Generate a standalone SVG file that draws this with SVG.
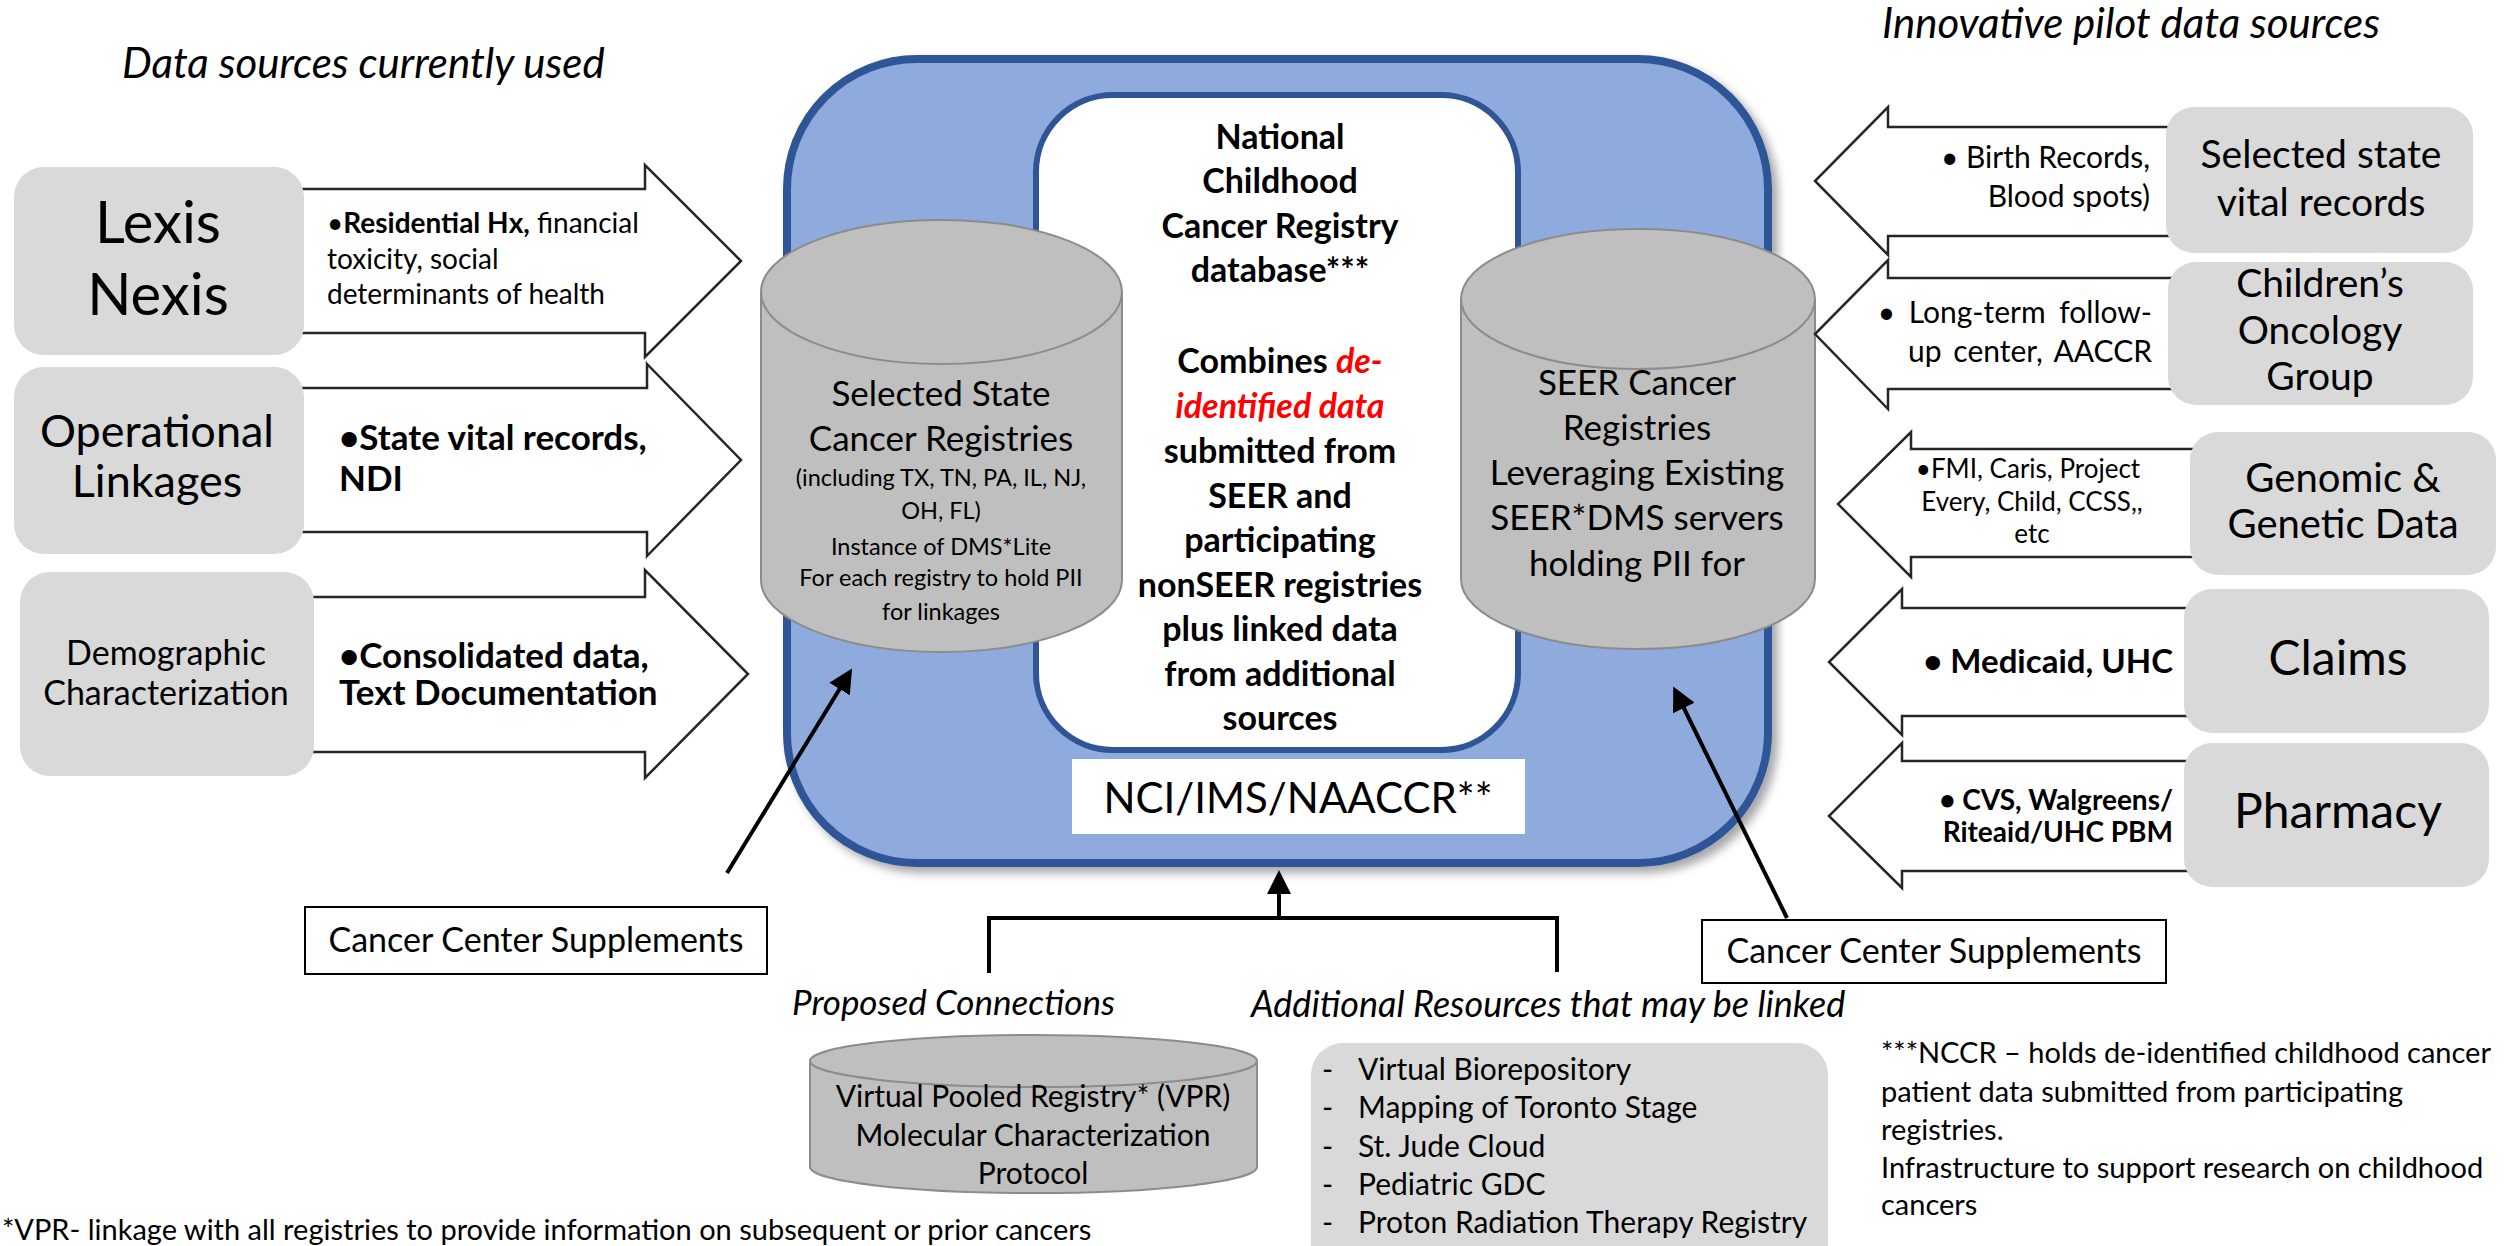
<svg xmlns="http://www.w3.org/2000/svg" width="2509" height="1246" viewBox="0 0 2509 1246">
<defs>
<style>
text{font-family:Lato,"Liberation Sans",sans-serif;fill:#000}
.it{font-style:italic}
.b{font-weight:bold}
.mid{text-anchor:middle}
.end{text-anchor:end}
.gbox{fill:#d9d9d9}
.arr{fill:#fff;stroke:#262626;stroke-width:2.5;stroke-linejoin:miter}
.cyl{fill:#bfbfbf;stroke:#8c8c8c;stroke-width:2}
.conn{stroke:#000;stroke-width:4;fill:none}
.frame{fill:#fff;stroke:#000;stroke-width:2}
</style>
<filter id="sh" x="-5%" y="-5%" width="112%" height="112%">
<feDropShadow dx="6" dy="6" stdDeviation="5" flood-color="#000" flood-opacity="0.35"/>
</filter>
<marker id="ah" markerWidth="6" markerHeight="6" refX="5" refY="3" orient="auto" markerUnits="strokeWidth">
<path d="M0,0 L6,3 L0,6 Z" fill="#000"/>
</marker>
</defs>
<rect width="2509" height="1246" fill="#fff"/>

<g id="titles">
<text class="it" x="122" y="78" font-size="42">Data sources currently used</text>
<text class="it" x="1882" y="38" font-size="42">Innovative pilot data sources</text>
</g>

<g id="hub">
<rect x="787" y="59" width="981" height="804" rx="130" fill="#8faadc" stroke="#2f5597" stroke-width="8" filter="url(#sh)"/>
<rect x="1036" y="95" width="482" height="655" rx="77" fill="#fff" stroke="#2f5597" stroke-width="6"/>
<g class="b" font-size="34">
<text class="mid" x="1280" y="149">National</text>
<text class="mid" x="1280" y="193">Childhood</text>
<text class="mid" x="1280" y="238">Cancer Registry</text>
<text class="mid" x="1280" y="282">database***</text>
<text class="mid" x="1280" y="373">Combines <tspan fill="#ff0000" style="fill:#ff0000" font-style="italic">de-</tspan></text>
<text class="mid it" x="1280" y="418" style="fill:#ff0000">identified data</text>
<text class="mid" x="1280" y="463">submitted from</text>
<text class="mid" x="1280" y="508">SEER and</text>
<text class="mid" x="1280" y="552">participating</text>
<text class="mid" x="1280" y="597">nonSEER registries</text>
<text class="mid" x="1280" y="641">plus linked data</text>
<text class="mid" x="1280" y="686">from additional</text>
<text class="mid" x="1280" y="730">sources</text>
</g>
<rect x="1072" y="759" width="453" height="75" fill="#fff"/>
<text class="mid" x="1298" y="813" font-size="42">NCI/IMS/NAACCR**</text>
</g>

<g id="state-registries">
<path class="cyl" d="M761,292 L761,580 A180.5,72 0 0 0 1122,580 L1122,292 Z"/>
<ellipse class="cyl" cx="941.5" cy="292" rx="180.5" ry="72"/>
<text class="mid" x="941" y="406" font-size="35">Selected State</text>
<text class="mid" x="941" y="451" font-size="35">Cancer Registries</text>
<text class="mid" x="941" y="486" font-size="23.5">(including TX, TN, PA, IL, NJ,</text>
<text class="mid" x="941" y="519" font-size="23.5">OH, FL)</text>
<text class="mid" x="941" y="555" font-size="23.5">Instance of DMS*Lite</text>
<text class="mid" x="941" y="586" font-size="23.5">For each registry to hold PII</text>
<text class="mid" x="941" y="620" font-size="23.5">for linkages</text>
</g>

<g id="seer-registries">
<path class="cyl" d="M1461,299 L1461,579 A177,70 0 0 0 1815,579 L1815,299 Z"/>
<ellipse class="cyl" cx="1638" cy="299" rx="177" ry="70"/>
<g font-size="35">
<text class="mid" x="1637" y="395">SEER Cancer</text>
<text class="mid" x="1637" y="440">Registries</text>
<text class="mid" x="1637" y="485">Leveraging Existing</text>
<text class="mid" x="1637" y="530">SEER*DMS servers</text>
<text class="mid" x="1637" y="576">holding PII for</text>
</g>
</g>

<g id="lexis-nexis">
<polygon class="arr" points="300,189 645,189 645,165 741,261 645,357 645,333 300,333"/>
<rect class="gbox" x="14" y="167" width="290" height="188" rx="30"/>
<text class="mid" x="158" y="243" font-size="58">Lexis</text>
<text class="mid" x="158" y="315" font-size="58">Nexis</text>
<text x="327" y="233" font-size="28">•<tspan class="b">Residential Hx,</tspan> financial</text>
<text x="327" y="269" font-size="28">toxicity, social</text>
<text x="327" y="304" font-size="28">determinants of health</text>
</g>

<g id="operational-linkages">
<polygon class="arr" points="300,388 647,388 647,364 741,460 647,556 647,532 300,532"/>
<rect class="gbox" x="14" y="367" width="290" height="187" rx="30"/>
<text class="mid" x="157" y="447" font-size="45">Operational</text>
<text class="mid" x="157" y="497" font-size="45">Linkages</text>
<text class="b" x="339" y="450" font-size="35">•State vital records,</text>
<text class="b" x="339" y="491" font-size="35">NDI</text>
</g>

<g id="demographic">
<polygon class="arr" points="310,597 645,597 645,570 748,674 645,778 645,752 310,752"/>
<rect class="gbox" x="20" y="572" width="294" height="204" rx="30"/>
<text class="mid" x="166" y="665" font-size="34">Demographic</text>
<text class="mid" x="166" y="705" font-size="34">Characterization</text>
<text class="b" x="339" y="668" font-size="35">•Consolidated data,</text>
<text class="b" x="339" y="705" font-size="35">Text Documentation</text>
</g>

<g id="vital-records">
<polygon class="arr" points="2180,127 1888,127 1888,107 1815,181 1888,255 1888,236 2180,236"/>
<rect class="gbox" x="2166" y="107" width="307" height="146" rx="28"/>
<text class="mid" x="2321" y="168" font-size="39">Selected state</text>
<text class="mid" x="2321" y="216" font-size="39">vital records</text>
<text class="end" x="2150" y="168" font-size="30">• Birth Records,</text>
<text class="end" x="2150" y="207" font-size="30">Blood spots)</text>
</g>

<g id="cog">
<polygon class="arr" points="2180,278 1888,278 1888,260 1815,334 1888,409 1888,389 2180,389"/>
<rect class="gbox" x="2168" y="262" width="305" height="143" rx="28"/>
<text class="mid" x="2320" y="297" font-size="39">Children’s</text>
<text class="mid" x="2320" y="344" font-size="39">Oncology</text>
<text class="mid" x="2320" y="390" font-size="39">Group</text>
<text class="end" x="2152" y="323" font-size="30" word-spacing="6">• Long-term follow-</text>
<text class="end" x="2152" y="362" font-size="30" word-spacing="4">up center, AACCR</text>
</g>

<g id="genomic">
<polygon class="arr" points="2200,449 1911,449 1911,432 1838,504 1911,577 1911,557 2200,557"/>
<rect class="gbox" x="2190" y="432" width="306" height="143" rx="28"/>
<text class="mid" x="2343" y="492" font-size="40">Genomic &amp;</text>
<text class="mid" x="2343" y="538" font-size="40">Genetic Data</text>
<text class="mid" x="2028" y="478" font-size="26">•FMI, Caris, Project</text>
<text class="mid" x="2032" y="511" font-size="26">Every, Child, CCSS,,</text>
<text class="mid" x="2032" y="543" font-size="26">etc</text>
</g>

<g id="claims">
<polygon class="arr" points="2200,608 1902,608 1902,589 1829,662 1902,735 1902,716 2200,716"/>
<rect class="gbox" x="2184" y="589" width="305" height="144" rx="28"/>
<text class="mid" x="2338" y="675" font-size="48">Claims</text>
<text class="b end" x="2173" y="673" font-size="33">• Medicaid, UHC</text>
</g>

<g id="pharmacy">
<polygon class="arr" points="2200,761 1902,761 1902,743 1829,816 1902,888 1902,871 2200,871"/>
<rect class="gbox" x="2184" y="743" width="305" height="144" rx="28"/>
<text class="mid" x="2338" y="828" font-size="48">Pharmacy</text>
<text class="b end" x="2173" y="810" font-size="28">• CVS, Walgreens/</text>
<text class="b end" x="2173" y="842" font-size="28">Riteaid/UHC PBM</text>
</g>

<g id="ccs-left">
<rect class="frame" x="305" y="907" width="462" height="67"/>
<text class="mid" x="536" y="952" font-size="34">Cancer Center Supplements</text>
</g>

<g id="ccs-right">
<rect class="frame" x="1702" y="920" width="464" height="63"/>
<text class="mid" x="1934" y="963" font-size="34">Cancer Center Supplements</text>
</g>

<g id="connectors">
<line class="conn" x1="727" y1="873" x2="850" y2="672" marker-end="url(#ah)"/>
<line class="conn" x1="1787" y1="918" x2="1675" y2="690" marker-end="url(#ah)"/>
<polyline class="conn" points="989,973 989,918 1557,918 1557,972"/>
<line class="conn" x1="1279" y1="918" x2="1279" y2="874" marker-end="url(#ah)"/>
</g>

<g id="proposed">
<text class="it" x="792" y="1015" font-size="35">Proposed Connections</text>
<path class="cyl" d="M810,1061 L810,1167 A223.5,26 0 0 0 1257,1167 L1257,1061 Z"/>
<ellipse class="cyl" cx="1033.5" cy="1061" rx="223.5" ry="26"/>
<text class="mid" x="1033" y="1107" font-size="30">Virtual Pooled Registry* (VPR)</text>
<text class="mid" x="1033" y="1146" font-size="30">Molecular Characterization</text>
<text class="mid" x="1033" y="1184" font-size="30">Protocol</text>
</g>

<g id="additional">
<text class="it" x="1251" y="1017" font-size="36">Additional Resources that may be linked</text>
<rect class="gbox" x="1311" y="1043" width="517" height="240" rx="32"/>
<g font-size="30">
<text x="1322" y="1080">-</text><text x="1358" y="1080">Virtual Biorepository</text>
<text x="1322" y="1118">-</text><text x="1358" y="1118">Mapping of Toronto Stage</text>
<text x="1322" y="1157">-</text><text x="1358" y="1157">St. Jude Cloud</text>
<text x="1322" y="1195">-</text><text x="1358" y="1195">Pediatric GDC</text>
<text x="1322" y="1233">-</text><text x="1358" y="1233">Proton Radiation Therapy Registry</text>
</g>
</g>

<g id="notes" font-size="29">
<text x="2" y="1240">*VPR- linkage with all registries to provide information on subsequent or prior cancers</text>
<text x="1881" y="1063">***NCCR – holds de-identified childhood cancer</text>
<text x="1881" y="1102">patient data submitted from participating</text>
<text x="1881" y="1140">registries.</text>
<text x="1881" y="1178">Infrastructure to support research on childhood</text>
<text x="1881" y="1215">cancers</text>
</g>
</svg>
